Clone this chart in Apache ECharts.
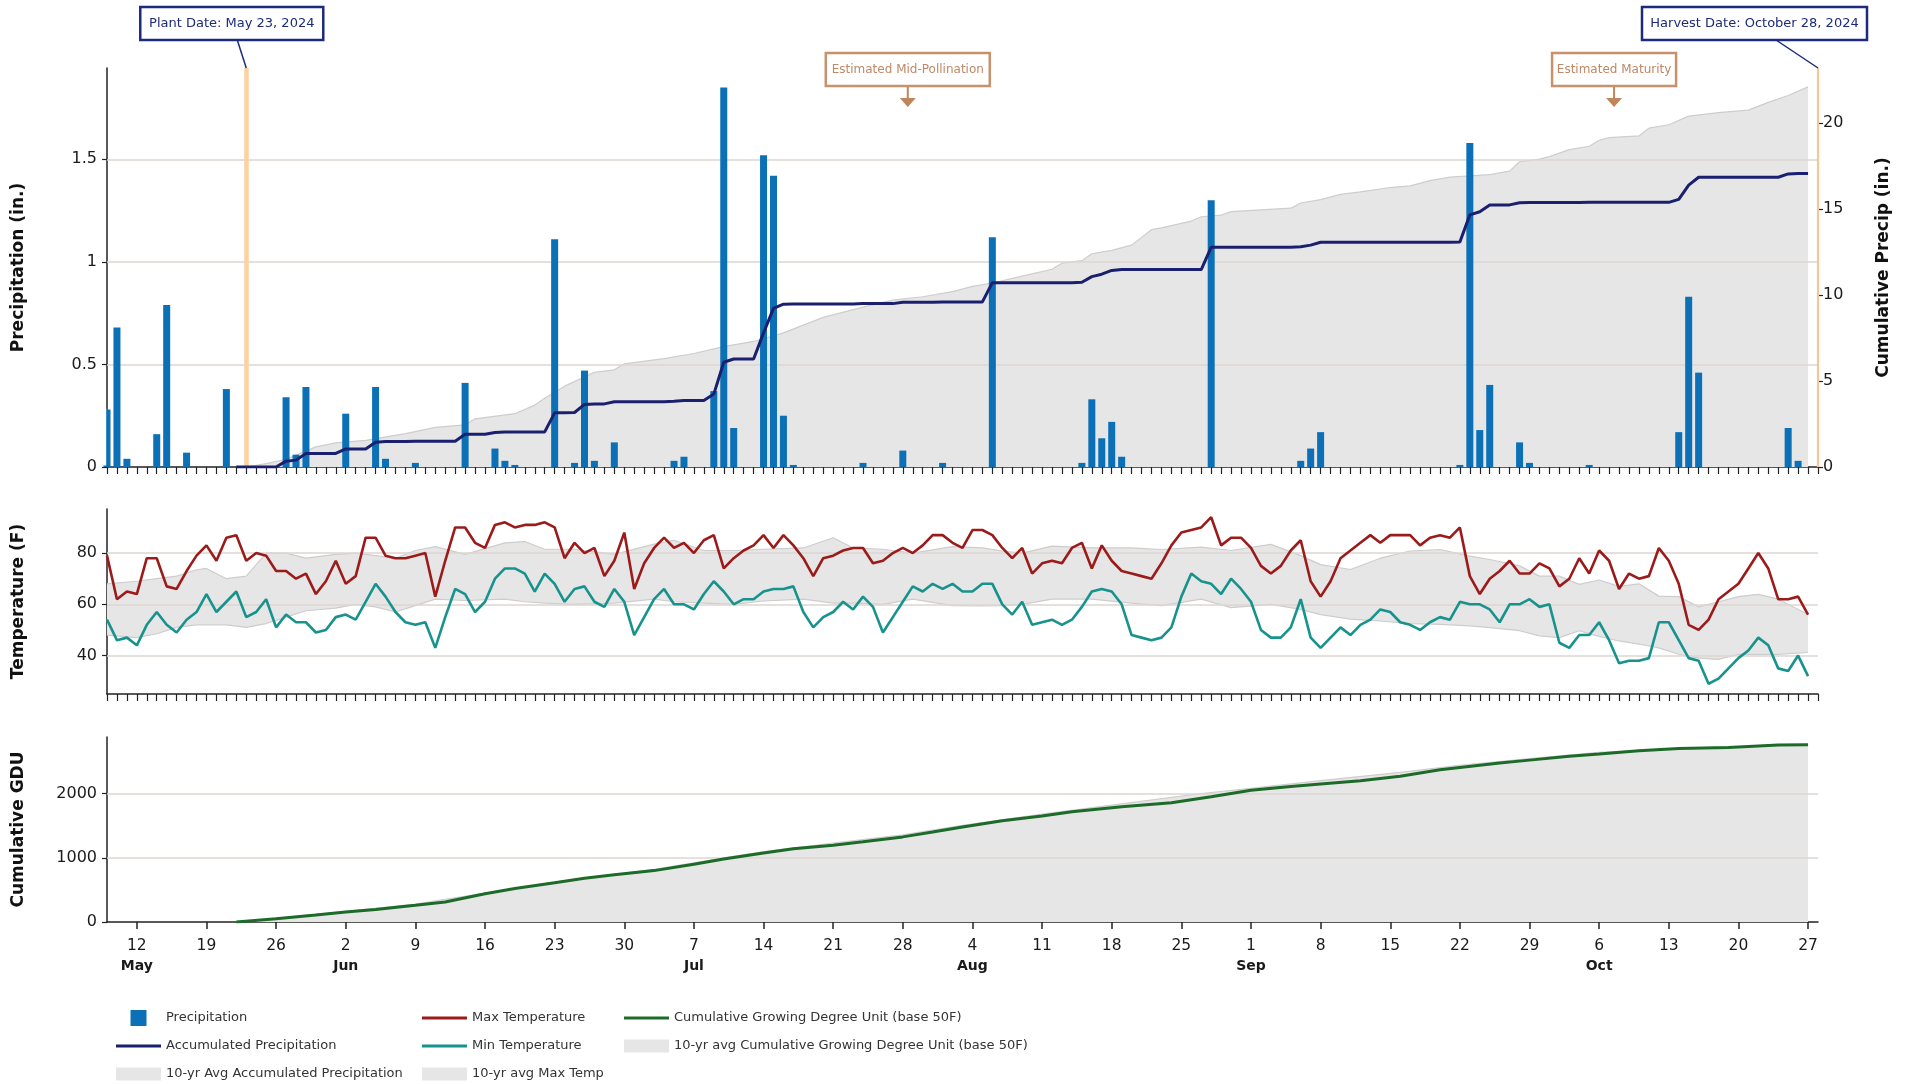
<!DOCTYPE html>
<html>
<head>
<meta charset="utf-8">
<script src="https://cdn.jsdelivr.net/npm/echarts@6/dist/echarts.min.js"></script>
<style>html,body{margin:0;padding:0;background:#fff}#c{width:1912px;height:1084px}</style>
</head>
<body>
<div id="c"></div>
<script>
// ---------------- DATA ----------------
const startDate = '2024-05-09';
const dayCount = 173; // May 9 .. Oct 28
const plantDate = '2024-05-23';
const harvestDate = '2024-10-28';
const midPollinationDate = '2024-07-28';
const maturityDate = '2024-10-07';

// daily precipitation (in.), May 9 .. Oct 27
const precip = [
  0.28,0.68,0.04,0,0,0.16,0.79,0,0.07,0,
  0,0,0.38,0,0,0,0,0,0.34,0.06,
  0.39,0,0,0,0.26,0,0,0.39,0.04,0,
  0,0.02,0,0,0,0,0.41,0,0,0.09,
  0.03,0.01,0,0,0,1.11,0,0.02,0.47,0.03,
  0,0.12,0,0,0,0,0,0.03,0.05,0,
  0,0.37,1.85,0.19,0,0,1.52,1.42,0.25,0.01,
  0,0,0,0,0,0,0.02,0,0,0,
  0.08,0,0,0,0.02,0,0,0,0,1.12,
  0,0,0,0,0,0,0,0,0.02,0.33,
  0.14,0.22,0.05,0,0,0,0,0,0,0,
  0,1.30,0,0,0,0,0,0,0,0,
  0.03,0.09,0.17,0,0,0,0,0,0,0,
  0,0,0,0,0,0,0.01,1.58,0.18,0.40,
  0,0,0.12,0.02,0,0,0,0,0,0.01,
  0,0,0,0,0,0,0,0,0.17,0.83,
  0.46,0,0,0,0,0,0,0,0,0.19,
  0.03,0
];

// accumulated precipitation since planting (in.)
const accumPrecip = [
  null,null,null,null,null,null,null,null,null,null,
  null,null,null,0,0,0,0,0,0.34,0.40,
  0.79,0.79,0.79,0.79,1.05,1.05,1.05,1.44,1.48,1.48,
  1.48,1.50,1.50,1.50,1.50,1.50,1.91,1.91,1.91,2.00,
  2.03,2.04,2.04,2.04,2.04,3.15,3.15,3.17,3.64,3.67,
  3.67,3.79,3.79,3.79,3.79,3.79,3.79,3.82,3.87,3.87,
  3.87,4.24,6.09,6.28,6.28,6.28,7.80,9.22,9.47,9.48,
  9.48,9.48,9.48,9.48,9.48,9.48,9.50,9.50,9.50,9.50,
  9.58,9.58,9.58,9.58,9.60,9.60,9.60,9.60,9.60,10.72,
  10.72,10.72,10.72,10.72,10.72,10.72,10.72,10.72,10.74,11.07,
  11.21,11.43,11.48,11.48,11.48,11.48,11.48,11.48,11.48,11.48,
  11.48,12.78,12.78,12.78,12.78,12.78,12.78,12.78,12.78,12.78,
  12.81,12.90,13.07,13.07,13.07,13.07,13.07,13.07,13.07,13.07,
  13.07,13.07,13.07,13.07,13.07,13.07,13.08,14.66,14.84,15.24,
  15.24,15.24,15.36,15.38,15.38,15.38,15.38,15.38,15.38,15.39,
  15.39,15.39,15.39,15.39,15.39,15.39,15.39,15.39,15.56,16.39,
  16.85,16.85,16.85,16.85,16.85,16.85,16.85,16.85,16.85,17.04,
  17.07,17.07
];

// 10-yr avg accumulated precipitation: [day offset from start, inches]
const avgAccumPrecip = [
  [14,0],[16,0.2],[18,0.45],[21,1.17],[23,1.4],[26,1.55],[30,1.94],[33,2.3],[36,2.45],[37,2.8],
  [41,3.1],[43,3.6],[44,4.0],[46,4.7],[49,5.5],[51,5.65],[52,6.0],[56,6.3],[59,6.6],[62,7.0],
  [65,7.3],[68,7.8],[70,8.25],[72,8.7],[76,9.3],[79,9.7],[82,9.9],[85,10.2],[87,10.5],[89,10.7],
  [92,11.1],[95,11.5],[96,11.85],[98,12.0],[99,12.4],[101,12.6],[103,12.9],[105,13.8],[106,13.9],[109,14.3],
  [110,14.55],[112,14.65],[113,14.85],[119,15.05],[120,15.35],[122,15.55],[124,15.85],[126,16.0],[129,16.25],[131,16.35],
  [133,16.65],[135,16.85],[139,17.0],[141,17.2],[142,17.75],[144,17.9],[145,18.05],[147,18.45],[149,18.65],[150,19.0],
  [151,19.15],[154,19.25],[155,19.7],[157,19.9],[159,20.4],[162,20.6],[165,20.75],[167,21.2],[169,21.6],[171,22.1]
];

// daily max / min temperature (F)
const maxTemp = [
  79,62,65,64,78,78,67,66,73,79,
  83,77,86,87,77,80,79,73,73,70,
  72,64,69,77,68,71,86,86,79,78,
  78,79,80,63,77,90,90,84,82,91,
  92,90,91,91,92,90,78,84,80,82,
  71,77,88,66,76,82,86,82,84,80,
  85,87,74,78,81,83,87,82,87,83,
  78,71,78,79,81,82,82,76,77,80,
  82,80,83,87,87,84,82,89,89,87,
  82,78,82,72,76,77,76,82,84,74,
  83,77,73,72,71,70,76,83,88,89,
  90,94,83,86,86,82,75,72,75,81,
  85,69,63,69,78,81,84,87,84,87,
  87,87,83,86,87,86,90,71,64,70,
  73,77,72,72,76,74,67,70,78,72,
  81,77,66,72,70,71,82,77,68,52,
  50,54,62,65,68,74,80,74,62,62,
  63,56
];
const minTemp = [
  54,46,47,44,52,57,52,49,54,57,
  64,57,61,65,55,57,62,51,56,53,
  53,49,50,55,56,54,61,68,63,57,
  53,52,53,43,55,66,64,57,61,70,
  74,74,72,65,72,68,61,66,67,61,
  59,66,61,48,55,62,66,60,60,58,
  64,69,65,60,62,62,65,66,66,67,
  57,51,55,57,61,58,63,59,49,55,
  61,67,65,68,66,68,65,65,68,68,
  60,56,61,52,53,54,52,54,59,65,
  66,65,60,48,47,46,47,51,63,72,
  69,68,64,70,66,61,50,47,47,51,
  62,47,43,47,51,48,52,54,58,57,
  53,52,50,53,55,54,61,60,60,58,
  53,60,60,62,59,60,45,43,48,48,
  53,46,37,38,38,39,53,53,46,39,
  38,29,31,35,39,42,47,44,35,34,
  40,32
];

// 10-yr avg temperature band (F)
const avgBandDays = [0,3,5,7,9,10,12,14,16,18,20,23,25,27,29,31,33,36,40,42,44,47,51,55,57,60,63,66,70,73,75,78,81,85,88,90,92,95,99,103,106,110,113,117,120,122,125,128,131,134,137,139,142,144,146,148,150,152,154,156,158,160,162,164,166,168,171];
const avgMaxTemp = [68,69,70,71,73.5,74,70,71,80,80,78,79.5,80,79,78,81,82.5,79.5,84,84.5,81.5,81.5,79.5,83.5,85,81,81,81.5,82,86,82,81.5,80,82.5,82,80.8,80,82.7,82,82,81.4,82.3,81,83.4,79,75.5,73.6,78,80.8,81.4,78.8,77.5,75,71,71,67.8,69.5,67,68,63.2,63,59,61,63,63.9,62,56];
const avgMinTemp = [48,47,48.5,51,52,52,52,51,52.5,55,57.5,58.5,60,59,57,59.5,62,61.5,62,61,60.5,60,60.5,62,61,60.5,60,61.3,62,60.5,60.5,60,62,59.5,59.4,59.5,60,62,62,60.5,59.5,62,58.7,60,58,56,54.2,53.5,52.5,52.2,51.6,50.9,49.7,47.7,47,49.7,47.5,45.7,44.5,43,40.5,39,38.5,40.5,40.5,40.5,41.2];

// cumulative GDU: [day offset, GDU]
const gdu = [
  [13,0],[17,50],[21,110],[24,156],[27,195],[31,260],[34,310],[38,440],[41,520],[45,610],
  [48,680],[51,735],[55,800],[59,900],[62,980],[66,1075],[69,1140],[73,1195],[76,1250],[80,1325],
  [83,1400],[86,1480],[90,1575],[94,1650],[97,1715],[102,1795],[107,1855],[111,1950],[115,2050],[119,2110],
  [122,2150],[126,2200],[130,2270],[134,2370],[136,2405],[140,2475],[143,2520],[147,2580],[150,2615],[154,2665],
  [158,2700],[163,2715],[166,2740],[168,2755],[171,2758]
];
const avgGdu = [
  [13,0],[24,165],[31,280],[38,450],[45,620],[55,820],[62,1000],[66,1095],[73,1230],[80,1355],
  [86,1505],[94,1680],[102,1840],[110,2000],[115,2080],[122,2200],[130,2330],[136,2440],[143,2545],[150,2640],
  [158,2705],[163,2725],[171,2760]
];

// tick labels
const precipTicks = [0, 0.5, 1, 1.5];
const cumPrecipTicks = [0, 5, 10, 15, 20];
const tempTicks = [40, 60, 80];
const gduTicks = [0, 1000, 2000];
const monthNames = ['Jan','Feb','Mar','Apr','May','Jun','Jul','Aug','Sep','Oct','Nov','Dec'];

// ---------------- BUILD ----------------
const FONT = "'DejaVu Sans', Verdana, sans-serif";
const t0 = Date.parse(startDate + 'T00:00:00Z');
const dates = [];
for (let i = 0; i < dayCount; i++) dates.push(new Date(t0 + i * 86400000).toISOString().slice(0, 10));
const isSunday = v => new Date(v + 'T00:00:00Z').getUTCDay() === 0;
const firstSundayIdx = dates.findIndex(isSunday);
const pairs = arr => arr.map(p => [dates[p[0]], p[1]]);

function xAx(gi, labels) {
  return {
    type: 'category', gridIndex: gi, data: dates, boundaryGap: false,
    axisLine: {show: true, onZero: false, lineStyle: {color: '#222', width: 1.5}},
    axisTick: labels
      ? {show: true, interval: (i, v) => isSunday(v), length: 7, lineStyle: {color: '#222', width: 1.5}}
      : {show: true, interval: 0, length: 7, lineStyle: {color: '#222', width: 1.2}},
    axisLabel: labels ? {
      show: true, interval: (i, v) => isSunday(v), margin: 13,
      formatter: (v, i) => {
        const d = new Date(v + 'T00:00:00Z');
        const day = d.getUTCDate();
        const mon = (day <= 7 || i === firstSundayIdx) ? '\n{m|' + monthNames[d.getUTCMonth()] + '}' : '';
        return '{d|' + day + '}' + mon;
      },
      rich: {
        d: {fontFamily: FONT, fontSize: 15.5, color: '#1a1a1a', lineHeight: 21},
        m: {fontFamily: FONT, fontSize: 14, fontWeight: 'bold', color: '#1a1a1a', lineHeight: 21}
      }
    } : {show: false},
    splitLine: {show: false}
  };
}
function yAx(gi, pos, min, max, ticks, name, gap, showLine, margin) {
  return {
    type: 'value', gridIndex: gi, position: pos, min: min, max: max,
    name: name, nameLocation: 'middle', nameRotate: 90, nameGap: gap,
    nameTextStyle: {fontFamily: FONT, fontWeight: 'bold', fontSize: 17, color: '#111'},
    axisLine: {show: showLine, lineStyle: {color: '#222', width: 1.5}},
    axisTick: {show: true, customValues: ticks, length: 5, lineStyle: {color: '#222', width: 1.2}},
    axisLabel: {customValues: ticks, fontFamily: FONT, fontSize: 16, color: '#1a1a1a', margin: margin, formatter: v => String(v)},
    splitLine: {show: false}
  };
}
function gridLines(vals) {
  return {
    silent: true, symbol: 'none', z: 2, animation: false, label: {show: false},
    lineStyle: {color: '#dcd6d1', width: 1.5, type: 'solid'},
    emphasis: {disabled: true},
    data: vals.map(v => ({yAxis: v}))
  };
}

const GRAY_FILL = '#e6e6e6', GRAY_EDGE = '#cdcdcd';
const C_BAR = '#0b70b5', C_ACC = '#1b1f6f', C_MAX = '#9b1b1b', C_MIN = '#17928d', C_GDU = '#1d6b28';

const bandBase = avgBandDays.map((d, i) => [dates[d], avgMinTemp[i]]);
const bandTop = avgBandDays.map((d, i) => [dates[d], avgMaxTemp[i] - avgMinTemp[i]]);

const N_PREC = 'Precipitation', N_ACC = 'Accumulated Precipitation', N_AVGACC = '10-yr Avg Accumulated Precipitation';
const N_MAX = 'Max Temperature', N_MIN = 'Min Temperature', N_AVGMAX = '10-yr avg Max Temp';
const N_GDU = 'Cumulative Growing Degree Unit (base 50F)', N_AVGGDU = '10-yr avg Cumulative Growing Degree Unit (base 50F)';

const ICON_SQ = 'path://M0,0M45,16M14.5,0L30.5,0L30.5,16L14.5,16Z';
const ICON_LN = 'path://M0,0M45,16M0,6.5L45,6.5L45,9.5L0,9.5Z';
const ICON_AR = 'path://M0,0M45,16M0,1.5L45,1.5L45,14.5L0,14.5Z';
const legendCols = [116, 422, 624];
const legendRows = [1010, 1038, 1066];
const legendItems = [
  [N_PREC, ICON_SQ, C_BAR, 0, 0],
  [N_ACC, ICON_LN, C_ACC, 0, 1],
  [N_AVGACC, ICON_AR, GRAY_FILL, 0, 2],
  [N_MAX, ICON_LN, C_MAX, 1, 0],
  [N_MIN, ICON_LN, C_MIN, 1, 1],
  [N_AVGMAX, ICON_AR, GRAY_FILL, 1, 2],
  [N_GDU, ICON_LN, C_GDU, 2, 0],
  [N_AVGGDU, ICON_AR, GRAY_FILL, 2, 1]
];
const legends = legendItems.map(it => ({
  orient: 'horizontal', left: legendCols[it[3]], top: legendRows[it[4]], padding: 0,
  itemWidth: 45, itemHeight: 16, selectedMode: false,
  textStyle: {fontFamily: FONT, fontSize: 13, color: '#333'},
  data: [{name: it[0], icon: it[1], itemStyle: {color: it[2], borderWidth: 0}}]
}));

const GRID_LEFT = 107;
const option = {
  animation: false,
  backgroundColor: '#fff',
  grid: [
    {left: GRID_LEFT, right: 94, top: 68, height: 399},
    {left: GRID_LEFT, right: 94, top: 509, height: 185},
    {left: GRID_LEFT, right: 94, top: 737, height: 185}
  ],
  legend: legends,
  xAxis: [xAx(0, false), xAx(1, false), xAx(2, true)],
  yAxis: [
    yAx(0, 'left', 0, 1.945, precipTicks, 'Precipitation (in.)', 80, true, 10),
    yAx(0, 'right', 0, 23.2, cumPrecipTicks, 'Cumulative Precip (in.)', 57, false, 5),
    yAx(1, 'left', 25, 97.2, tempTicks, 'Temperature (F)', 80, true, 10),
    yAx(2, 'left', 0, 2880, gduTicks, 'Cumulative GDU', 80, true, 10)
  ],
  series: [
    {
      name: N_AVGACC, type: 'line', xAxisIndex: 0, yAxisIndex: 1, z: 1,
      data: pairs(avgAccumPrecip), showSymbol: false, symbol: 'none',
      itemStyle: {color: GRAY_FILL}, lineStyle: {color: GRAY_EDGE, width: 1.2},
      areaStyle: {color: GRAY_FILL, opacity: 1}
    },
    {
      name: N_PREC, type: 'bar', xAxisIndex: 0, yAxisIndex: 0, z: 3,
      data: precip, barWidth: 7, itemStyle: {color: C_BAR},
      markLine: gridLines([0.5, 1, 1.5])
    },
    {
      name: N_ACC, type: 'line', xAxisIndex: 0, yAxisIndex: 1, z: 4,
      data: accumPrecip, showSymbol: false, symbol: 'none', connectNulls: false,
      itemStyle: {color: C_ACC}, lineStyle: {color: C_ACC, width: 3},
      markLine: {
        silent: true, symbol: 'none', z: 3, animation: false, label: {show: false},
        emphasis: {disabled: true},
        data: [
          {xAxis: plantDate, lineStyle: {color: '#fdd1a0', width: 4.5, type: 'solid'}},
          {xAxis: harvestDate, lineStyle: {color: '#f4c793', width: 2.2, type: 'solid'}}
        ]
      }
    },
    {
      name: 'avgMinBase', type: 'line', xAxisIndex: 1, yAxisIndex: 2, z: 1, stack: 'band',
      data: bandBase, showSymbol: false, symbol: 'none',
      itemStyle: {color: GRAY_EDGE}, lineStyle: {color: GRAY_EDGE, width: 1.2}
    },
    {
      name: N_AVGMAX, type: 'line', xAxisIndex: 1, yAxisIndex: 2, z: 1, stack: 'band',
      data: bandTop, showSymbol: false, symbol: 'none',
      itemStyle: {color: GRAY_FILL}, lineStyle: {color: GRAY_EDGE, width: 1.2},
      areaStyle: {color: GRAY_FILL, opacity: 1},
      markLine: gridLines(tempTicks)
    },
    {
      name: N_MAX, type: 'line', xAxisIndex: 1, yAxisIndex: 2, z: 4,
      data: maxTemp, showSymbol: false, symbol: 'none',
      itemStyle: {color: C_MAX}, lineStyle: {color: C_MAX, width: 2.6}
    },
    {
      name: N_MIN, type: 'line', xAxisIndex: 1, yAxisIndex: 2, z: 4,
      data: minTemp, showSymbol: false, symbol: 'none',
      itemStyle: {color: C_MIN}, lineStyle: {color: C_MIN, width: 2.6}
    },
    {
      name: N_AVGGDU, type: 'line', xAxisIndex: 2, yAxisIndex: 3, z: 1,
      data: pairs(avgGdu), showSymbol: false, symbol: 'none',
      itemStyle: {color: GRAY_FILL}, lineStyle: {color: GRAY_EDGE, width: 1.2},
      areaStyle: {color: GRAY_FILL, opacity: 1},
      markLine: gridLines([1000, 2000])
    },
    {
      name: N_GDU, type: 'line', xAxisIndex: 2, yAxisIndex: 3, z: 4,
      data: pairs(gdu), showSymbol: false, symbol: 'none',
      itemStyle: {color: C_GDU}, lineStyle: {color: C_GDU, width: 3}
    }
  ]
};

const chart = echarts.init(document.getElementById('c'), null, {renderer: 'canvas', width: 1912, height: 1084});
chart.setOption(option);

// ---------------- ANNOTATIONS ----------------
const xPix = d => chart.convertToPixel({xAxisIndex: 0}, d);
const yPix = v => chart.convertToPixel({yAxisIndex: 0}, v);
const topY = yPix(1.945);
const NAVY = '#1c2b7b', TAN = '#c6916b', TAN_TXT = '#bf8866', TAN_ARROW = '#c0855b';
const g = [];

// hide the part of the first (edge) bar that falls left of the plot area
const zeroY = yPix(0);
g.push({type: 'rect', z: 50, silent: true,
  shape: {x: GRID_LEFT - 6, y: yPix(precip[0]) - 1, width: 5.2, height: zeroY - yPix(precip[0]) - 0.5},
  style: {fill: '#fff'}});

function box(x, y, w, h, stroke, text, color, size) {
  g.push({type: 'rect', z: 100, shape: {x: x, y: y, width: w, height: h}, style: {fill: '#fff', stroke: stroke, lineWidth: 2.5}});
  g.push({type: 'text', z: 101, x: x + w / 2, y: y + h / 2,
    style: {text: text, fill: color, font: size + 'px ' + FONT, align: 'center', verticalAlign: 'middle', textAlign: 'center', textVerticalAlign: 'middle'}});
}
const plantX = xPix(plantDate);
box(plantX - 106, 7, 183, 33, NAVY, 'Plant Date: May 23, 2024', NAVY, 13);
g.push({type: 'line', z: 99, shape: {x1: plantX - 9, y1: 40, x2: plantX, y2: topY}, style: {stroke: NAVY, lineWidth: 1.5}});

const harvX = xPix(harvestDate);
box(harvX - 176, 7, 225, 33, NAVY, 'Harvest Date: October 28, 2024', NAVY, 13);
g.push({type: 'line', z: 99, shape: {x1: harvX - 42, y1: 40, x2: harvX, y2: topY}, style: {stroke: NAVY, lineWidth: 1.5}});

function estBox(dateStr, w, text) {
  const i = dates.indexOf(dateStr);
  const cx = (xPix(dates[i]) + xPix(dates[i + 1])) / 2;
  box(cx - w / 2, 53, w, 33, TAN, text, TAN_TXT, 12);
  g.push({type: 'line', z: 99, shape: {x1: cx, y1: 86, x2: cx, y2: 99}, style: {stroke: TAN_ARROW, lineWidth: 2}});
  g.push({type: 'polygon', z: 99, shape: {points: [[cx - 8, 98], [cx + 8, 98], [cx, 107]]}, style: {fill: TAN_ARROW}});
}
estBox(midPollinationDate, 164, 'Estimated Mid-Pollination');
estBox(maturityDate, 124, 'Estimated Maturity');

chart.setOption({graphic: g});
</script>
</body>
</html>
